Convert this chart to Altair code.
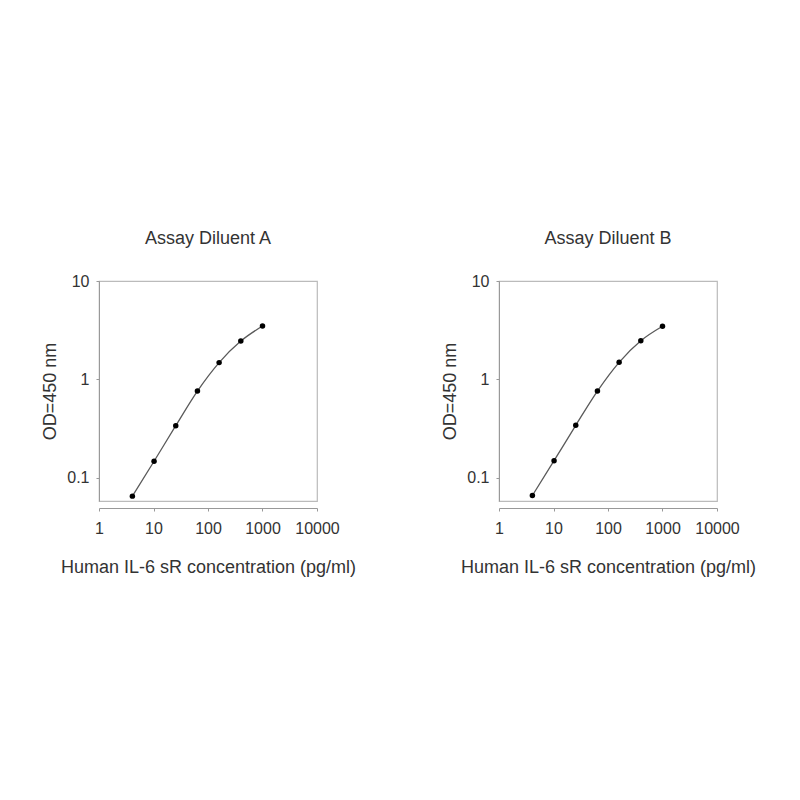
import altair as alt
import pandas as pd

conc = [4.1, 10.24, 25.6, 64, 160, 400, 1000]
od_a = [0.065, 0.147, 0.338, 0.76, 1.48, 2.45, 3.49]
od_b = [0.066, 0.149, 0.341, 0.76, 1.49, 2.47, 3.47]
titles = ["Assay Diluent A", "Assay Diluent B"]
x_ticks = [1, 10, 100, 1000, 10000]
y_ticks = [0.1, 1, 10]

FONT = "Liberation Sans"
TXT = "#333333"


def panel(od, title):
    df = pd.DataFrame({"conc": conc, "od": od})
    x = alt.X("conc:Q",
              scale=alt.Scale(type="log", domain=[1, 10000], nice=False),
              axis=alt.Axis(values=x_ticks, format="d", title="Human IL-6 sR concentration (pg/ml)",
                            grid=False, offset=7, tickSize=3, labelPadding=9,
                            labelOverlap=False, labelFlush=False, labelBound=False,
                            titlePadding=22, domainColor="#999999", tickColor="#999999"))
    y = alt.Y("od:Q",
              scale=alt.Scale(type="log", domain=[0.058, 10], nice=False),
              axis=alt.Axis(values=y_ticks, labelExpr="datum.value < 1 ? '0.1' : format(datum.value, 'd')",
                            title="OD=450 nm", grid=False, tickSize=3, labelPadding=7,
                            labelOverlap=False, labelFlush=False,
                            titlePadding=7, domainColor="#999999", tickColor="#999999"))
    base = alt.Chart(df).encode(x=x, y=y)
    line = base.mark_line(interpolate="monotone", color="#5a5a5a", strokeWidth=1.3)
    pts = base.mark_point(filled=True, color="black", size=30, opacity=1)
    return alt.layer(line, pts).properties(
        width=218, height=220,
        title=alt.TitleParams(title, fontSize=18, fontWeight="normal", font=FONT,
                              color=TXT, offset=25),
    )


chart = alt.hconcat(panel(od_a, titles[0]), panel(od_b, titles[1]), spacing=182,
                    bounds="flush").properties(
    padding={"left": 33, "top": 221, "right": 10, "bottom": 10}
).configure_view(stroke="#bbbbbb", strokeWidth=1.2).configure_axis(
    labelFont=FONT, titleFont=FONT, labelFontSize=16, titleFontSize=18,
    labelColor=TXT, titleColor=TXT, titleFontWeight="normal"
)

chart.save("out.html", embed_options={"renderer": "svg", "actions": False})
